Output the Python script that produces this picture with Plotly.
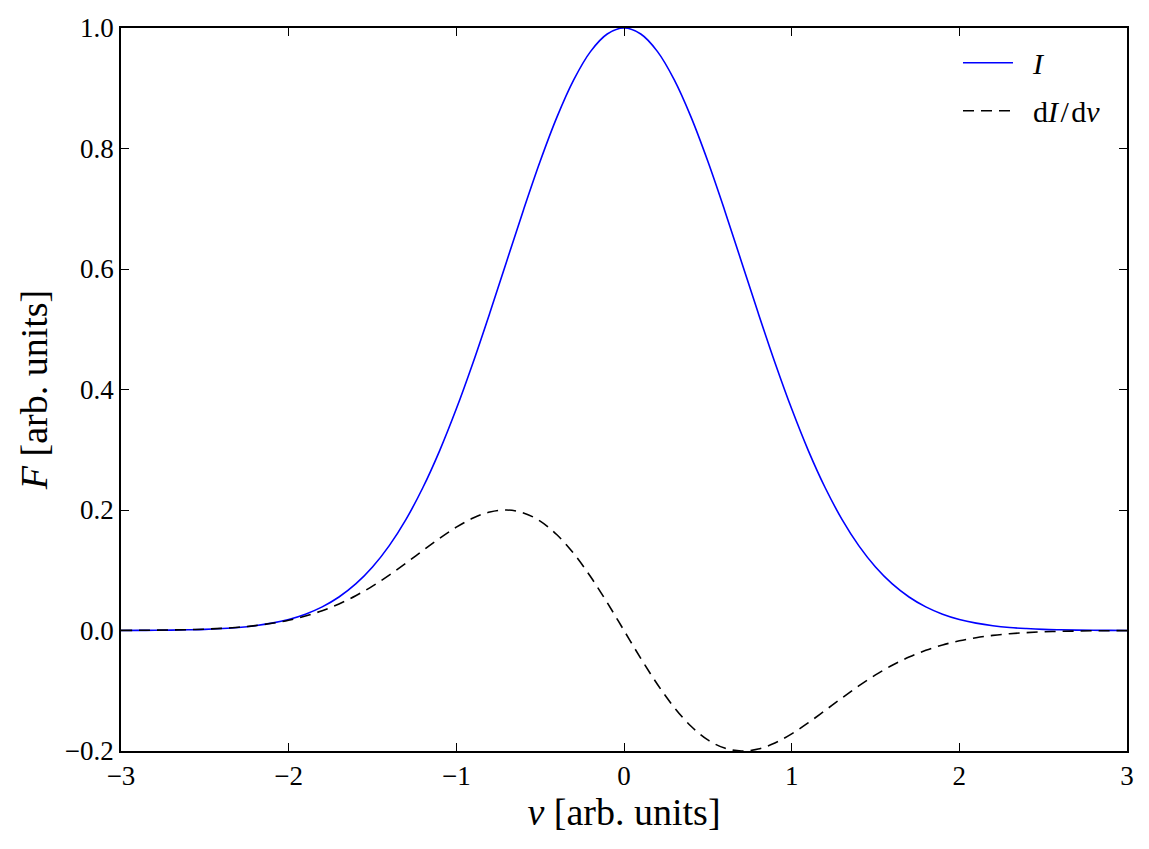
import plotly.graph_objects as go

# x positions (arb. units)
nu = [round(-3 + 0.1 * i, 1) for i in range(61)]

# Intensity I
I_vals = [
    0.0001, 0.0002, 0.0004, 0.0007, 0.0012, 0.0019, 0.0032, 0.0050, 0.0079, 0.0122,
    0.0183, 0.0271, 0.0392, 0.0556, 0.0773, 0.1054, 0.1409, 0.1845, 0.2369, 0.2982,
    0.3679, 0.4449, 0.5273, 0.6126, 0.6977, 0.7788, 0.8521, 0.9139, 0.9608, 0.9900,
    1.0000,
    0.9900, 0.9608, 0.9139, 0.8521, 0.7788, 0.6977, 0.6126, 0.5273, 0.4449, 0.3679,
    0.2982, 0.2369, 0.1845, 0.1409, 0.1054, 0.0773, 0.0556, 0.0392, 0.0271, 0.0183,
    0.0122, 0.0079, 0.0050, 0.0032, 0.0019, 0.0012, 0.0007, 0.0004, 0.0002, 0.0001,
]

# Derivative dI/dnu (scaled)
dI_vals = [
    0.0002, 0.0003, 0.0005, 0.0009, 0.0014, 0.0022, 0.0035, 0.0054, 0.0081, 0.0119,
    0.0171, 0.0240, 0.0329, 0.0441, 0.0577, 0.0737, 0.0920, 0.1119, 0.1326, 0.1530,
    0.1715, 0.1867, 0.1967, 0.2000, 0.1952, 0.1816, 0.1589, 0.1278, 0.0896, 0.0462,
    0.0000,
    -0.0462, -0.0896, -0.1278, -0.1589, -0.1816, -0.1952, -0.2000, -0.1967, -0.1867, -0.1715,
    -0.1530, -0.1326, -0.1119, -0.0920, -0.0737, -0.0577, -0.0441, -0.0329, -0.0240, -0.0171,
    -0.0119, -0.0081, -0.0054, -0.0035, -0.0022, -0.0014, -0.0009, -0.0005, -0.0003, -0.0002,
]

x_ticks = [-3, -2, -1, 0, 1, 2, 3]
y_ticks = [-0.2, 0.0, 0.2, 0.4, 0.6, 0.8, 1.0]

FONT = "Liberation Serif, DejaVu Serif, serif"

fig = go.Figure()
fig.add_trace(go.Scatter(
    x=nu, y=I_vals, mode="lines", name="\u2002<i>I</i>", legendgroup="a",
    line=dict(color="#0000ff", width=1.6, shape="spline"),
))
fig.add_trace(go.Scatter(
    x=nu, y=dI_vals, mode="lines", name="\u2002d<i>I</i>\u200a/\u200ad<i>ν</i>", legendgroup="b",
    line=dict(color="black", width=1.6, dash="11px,7px", shape="spline"),
))

axis_common = dict(
    showline=True, linecolor="black", linewidth=1.5, mirror="ticks",
    ticks="inside", ticklen=8, tickwidth=1, tickcolor="black",
    showgrid=False, zeroline=False,
    tickfont=dict(family=FONT, size=27, color="black"),
)

fig.update_layout(
    width=1149, height=849,
    margin=dict(l=121, r=22, t=28, b=98),
    paper_bgcolor="white", plot_bgcolor="white",
    font=dict(family=FONT, color="black"),
    xaxis=dict(
        range=[-3, 3], tickvals=x_ticks,
        title=dict(text="<i>ν</i> [arb. units]", font=dict(family=FONT, size=38), standoff=4),
        **axis_common,
    ),
    yaxis=dict(
        range=[-0.2, 1.0], tickvals=y_ticks, tickformat=".1f",
        title=dict(text="<i>F</i> [arb. units]", font=dict(family=FONT, size=38), standoff=6),
        **axis_common,
    ),
    legend=dict(
        x=0.832, y=0.988, xanchor="left", yanchor="top",
        bgcolor="rgba(255,255,255,0)", borderwidth=0,
        font=dict(family=FONT, size=30, color="black"),
        tracegroupgap=6, itemwidth=50,
    ),
)

fig.write_html("out.html")
